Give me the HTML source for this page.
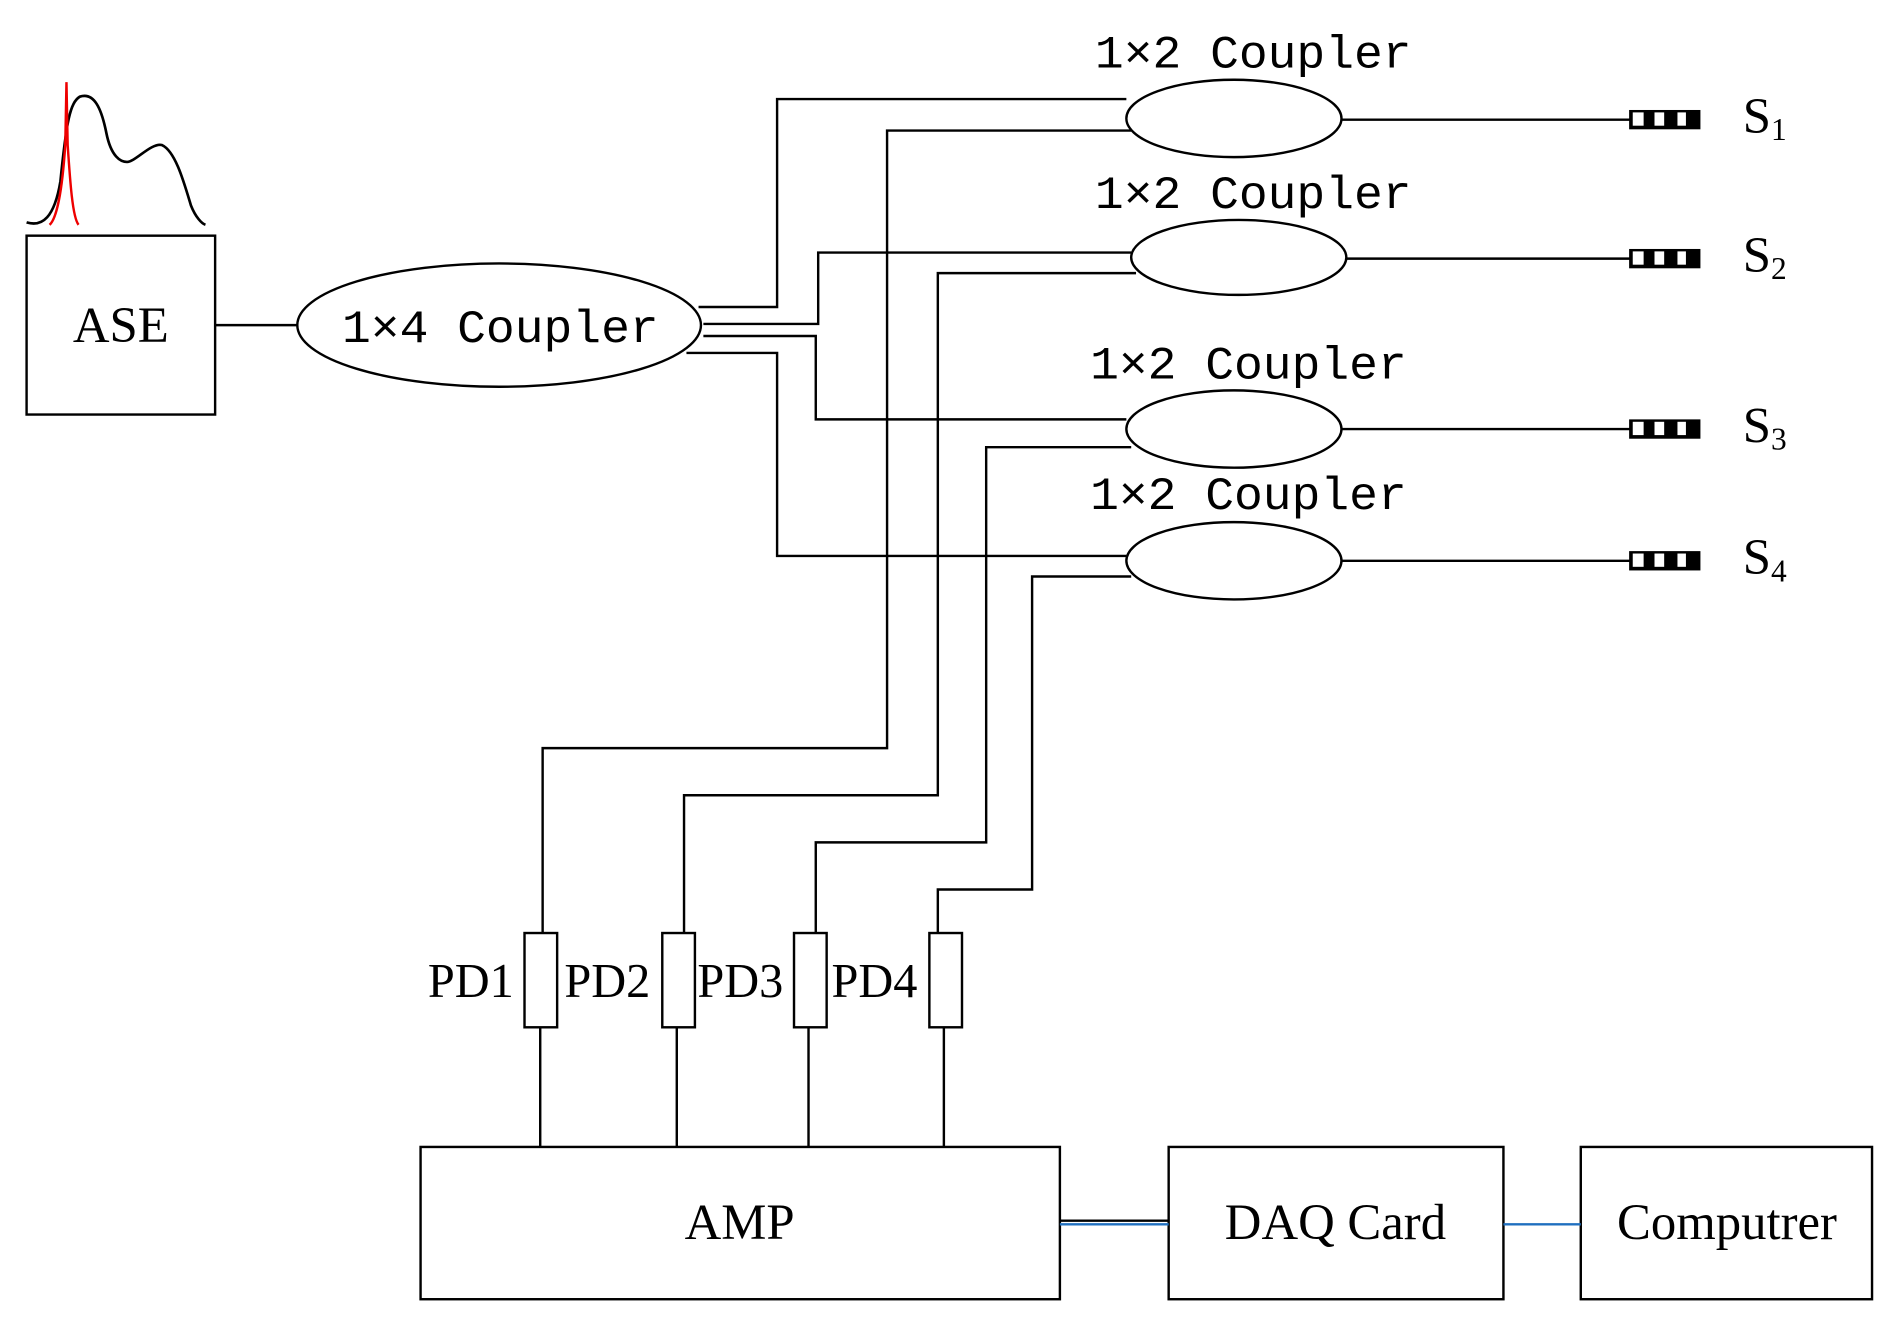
<!DOCTYPE html>
<html><head><meta charset="utf-8"><style>html,body{margin:0;padding:0;background:#fff}svg{display:block}</style></head>
<body>
<svg width="1895" height="1324" viewBox="0 0 1568 1095.5" preserveAspectRatio="none" xmlns="http://www.w3.org/2000/svg">
<g fill="none" stroke="#000" stroke-width="2">
<path d="M22,184 C35,188 45,180 50,150 C55,100 58,85 66,80 C78,76 84,90 88,110 C92,130 100,134 105,134 C112,134 125,118 134,120 C145,125 152,150 158,170 C162,180 167,185 170,186" stroke-width="2.2"/>
<path d="M41,186 C48,180 52,150 54,120 L55,68 L56,120 C58,150 60,180 65,186" stroke="#e00" stroke-width="2"/>
<rect x="22" y="195" width="156" height="148"/>
<line x1="178" y1="269" x2="246" y2="269"/>
<ellipse cx="413" cy="269" rx="167" ry="51"/>
<ellipse cx="1021" cy="98" rx="89" ry="32"/>
<ellipse cx="1025" cy="213" rx="89" ry="31"/>
<ellipse cx="1021" cy="355" rx="89" ry="32"/>
<ellipse cx="1021" cy="464" rx="89" ry="32"/>
<polyline points="578,254 643,254 643,82 932,82"/>
<polyline points="582,268 677,268 677,209 936,209"/>
<polyline points="582,278 675,278 675,347 932,347"/>
<polyline points="568,292 643,292 643,460 932,460"/>
<polyline points="936,108 734,108 734,619 449,619 449,772"/>
<polyline points="940,226 776,226 776,658 566,658 566,772"/>
<polyline points="936,370 816,370 816,697 675,697 675,772"/>
<polyline points="936,477 854,477 854,736 776,736 776,772"/>
<rect x="434" y="772" width="27" height="78"/>
<rect x="548" y="772" width="27" height="78"/>
<rect x="657" y="772" width="27" height="78"/>
<rect x="769" y="772" width="27" height="78"/>
<line x1="447" y1="850" x2="447" y2="949"/>
<line x1="560" y1="850" x2="560" y2="949"/>
<line x1="669" y1="850" x2="669" y2="949"/>
<line x1="781" y1="850" x2="781" y2="949"/>
<rect x="348" y="949" width="529" height="126"/>
<rect x="967" y="949" width="277" height="126"/>
<rect x="1308" y="949" width="241" height="126"/>
<line x1="877" y1="1010" x2="967" y2="1010"/>
<line x1="877" y1="1013" x2="967" y2="1013" stroke="#1f6fbf"/>
<line x1="1244" y1="1013" x2="1308" y2="1013" stroke="#1f6fbf"/>
<line x1="1110" y1="99" x2="1350" y2="99"/>
<line x1="1114" y1="214" x2="1350" y2="214"/>
<line x1="1110" y1="355" x2="1350" y2="355"/>
<line x1="1110" y1="464" x2="1350" y2="464"/>
</g>
<g>
<g id="s"><rect x="1348" y="91" width="59" height="16" fill="#000"/><rect x="1351" y="93" width="9" height="11" fill="#fff"/><rect x="1369" y="93" width="8" height="11" fill="#fff"/><rect x="1388" y="93" width="7" height="11" fill="#fff"/></g>
<use href="#s" y="115"/><use href="#s" y="256"/><use href="#s" y="365"/>
</g>
<g font-family="Liberation Mono, monospace" font-size="38" fill="#000">
<text x="906" y="56" textLength="262" lengthAdjust="spacingAndGlyphs">1×2 Coupler</text>
<text x="906" y="172" textLength="262" lengthAdjust="spacingAndGlyphs">1×2 Coupler</text>
<text x="902" y="313" textLength="262" lengthAdjust="spacingAndGlyphs">1×2 Coupler</text>
<text x="902" y="421" textLength="262" lengthAdjust="spacingAndGlyphs">1×2 Coupler</text>
<text x="283" y="283" textLength="262" lengthAdjust="spacingAndGlyphs">1×4 Coupler</text>
</g>
<g font-family="Liberation Serif, serif" font-size="42" fill="#000">
<text x="100" y="283" text-anchor="middle">ASE</text>
<text x="354" y="825" font-size="40">PD1</text>
<text x="467" y="825" font-size="40">PD2</text>
<text x="577" y="825" font-size="40">PD3</text>
<text x="688" y="825" font-size="40">PD4</text>
<text x="612" y="1025" text-anchor="middle">AMP</text>
<text x="1105" y="1025" text-anchor="middle">DAQ Card</text>
<text x="1429" y="1025" text-anchor="middle">Computrer</text>
<text x="1442" y="110">S<tspan font-size="26" dy="6">1</tspan></text>
<text x="1442" y="225">S<tspan font-size="26" dy="6">2</tspan></text>
<text x="1442" y="366">S<tspan font-size="26" dy="6">3</tspan></text>
<text x="1442" y="475">S<tspan font-size="26" dy="6">4</tspan></text>
</g>
</svg>
</body></html>
